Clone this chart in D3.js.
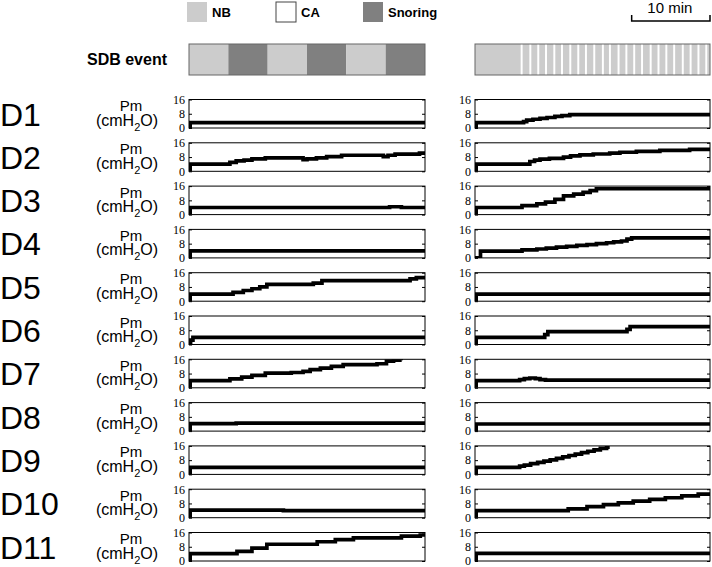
<!DOCTYPE html>
<html>
<head>
<meta charset="utf-8">
<script src="https://cdn.jsdelivr.net/npm/d3@7"></script>
<style>
  body { margin: 0; background: #fff; }
  svg { display: block; }
  .tick text { font-family: "Liberation Serif", "Times New Roman", serif; font-size: 12px; }
</style>
</head>
<body>
<svg id="chart" width="712" height="567"></svg>
<script>
// Subjects and time axis (minutes)
var subjects = ["D1", "D2", "D3", "D4", "D5", "D6", "D7", "D8", "D9", "D10", "D11"];
var yTicks = [0, 8, 16];
var totalMinutes = 30;

// Legend of SDB event types
var eventTypes = ["NB", "CA", "Snoring"];
var eventColors = { NB: "#cccccc", CA: "#ffffff", Snoring: "#808080" };

// SDB event protocol, [type, start, end] in minutes
var sdbLeft = [["NB", 0, 5], ["Snoring", 5, 10], ["NB", 10, 15], ["Snoring", 15, 20], ["NB", 20, 25], ["Snoring", 25, 30]];
var sdbRight = [["NB", 0, 30]];
var caStarts = [5.83, 6.94, 7.95, 8.94, 10.0, 10.98, 12.04, 13.06, 14.04, 15.1, 16.2, 17.1,
                18.2, 19.2, 20.2, 21.2, 22.3, 23.3, 24.3, 25.3, 26.4, 27.4, 28.4, 29.4];
var caLength = 0.25;

// Pm traces, [minute, cmH2O]
var d1Left  = [[0,0],[0.15,3],[30,3]];
var d1Right = [[0,0],[0.15,3],[6.2,3.6],[6.6,4.4],[7.4,4.9],[8.3,5.4],[9.2,5.9],[10.2,6.5],[11.1,7.0],[12.1,7.5],[30,7.5]];
var d2Left  = [[0,0],[0.15,4],[5.2,5],[6,5.8],[7,6.3],[8,7],[9.7,7.5],[14.5,6.6],[15,7],[16.2,7.5],[17.5,8.2],[19.4,9],[24.7,8.2],[25.3,9],[26.2,9.6],[29.3,10.2],[30,10.2]];
var d2Right = [[0,0],[0.15,4],[7.0,5.5],[7.6,6.3],[8.3,6.8],[9.5,7.3],[11.3,8],[12.2,8.7],[13.4,9.2],[15.1,9.7],[17.2,10.2],[18.5,10.7],[20.6,11.2],[23.6,11.7],[27.4,12.3],[30,12.3]];
var d3Left  = [[0,0],[0.15,4],[25.5,4.4],[27,4],[30,4]];
var d3Right = [[0,0],[0.15,4],[6.0,5],[7.9,6],[9,7],[10.2,8.5],[11.3,10.5],[12.6,11.5],[13.8,12.5],[14.7,13.5],[15.5,14.5],[30,14.5]];
var d4Left  = [[0,0],[0.15,4],[30,4]];
var d4Right = [[0,0],[0.6,0],[0.7,3.8],[6.0,4.5],[7.9,5],[9.1,5.5],[10.4,6],[11.7,6.5],[13,7],[14.3,7.5],[15.5,8],[16.8,8.5],[17.7,9],[18.7,9.5],[19.4,10.5],[20,11.2],[30,11.2]];
var d5Left  = [[0,0],[0.15,4],[5.6,5],[6.9,6],[8,7],[9,8],[9.9,9.5],[15.8,10.2],[16.9,11.6],[28.1,12.5],[28.9,13.2],[30,13.2]];
var d5Right = [[0,0],[0.15,4],[30,4]];
var d6Left  = [[0,0],[0.2,2.5],[0.5,4],[30,4]];
var d6Right = [[0,0],[0.15,4],[8.9,5.5],[9.3,7.2],[19.4,8.5],[19.8,10],[30,10]];
var d7Left  = [[0,0],[0.15,4],[5.2,5],[6.7,6],[8,7],[9.7,8.2],[13,8.6],[14.5,9.2],[15.4,10.2],[16.7,11],[18.1,12],[19.6,13],[23.9,13.5],[25.1,15],[26,15.5],[26.8,16.5],[27.2,16.5]];
var d7Right = [[0,0],[0.15,4],[5.7,4.6],[6.3,5.2],[7,5.5],[7.7,5.1],[8.3,4.6],[9,4.3],[30,4.3]];
var d8Left  = [[0,0],[0.15,4.2],[6,4.5],[30,4.5]];
var d8Right = [[0,0],[0.15,4],[30,4]];
var d9Left  = [[0,0],[0.15,4],[30,4]];
var d9Right = [[0,0],[0.15,4],[5.7,4.6],[6.3,5.2],[7.1,6],[8,6.8],[8.8,7.5],[9.6,8.2],[10.4,9],[11.2,9.8],[12,10.6],[12.8,11.4],[13.6,12.2],[14.4,13],[15.2,13.8],[16,14.6],[16.8,15.3],[17.2,15.3]];
var d10Left  = [[0,0],[0.15,4.2],[12,4],[30,4]];
var d10Right = [[0,0],[0.15,4],[11.9,5],[14.3,6.2],[16.4,7.3],[18.3,8.3],[20.2,9.3],[22.3,10.3],[24.3,11.2],[26.4,12.2],[28.5,13.2],[30,13.2]];
var d11Left  = [[0,0],[0.15,4.1],[6.1,5.4],[8,7.2],[9.9,9.4],[16.3,10.8],[18.6,12],[20.9,13],[27,14],[29.4,14.6],[30,14.6]];
var d11Right = [[0,0],[0.15,4.3],[30,4.3]];

var leftTraces  = [d1Left, d2Left, d3Left, d4Left, d5Left, d6Left, d7Left, d8Left, d9Left, d10Left, d11Left];
var rightTraces = [d1Right, d2Right, d3Right, d4Right, d5Right, d6Right, d7Right, d8Right, d9Right, d10Right, d11Right];

var svg = d3.select("#chart");
var sans = "Liberation Sans, Arial, Helvetica, sans-serif";

// Column layout
var columns = [
  { x0: 189, x1: 425, traces: leftTraces, sdb: sdbLeft, ca: [] },
  { x0: 475, x1: 710, traces: rightTraces, sdb: sdbRight, ca: caStarts }
];
var panelH = 28.5;
var rowTop = d3.scaleLinear().domain([0, 1]).range([99.5, 142.8]);
var y = d3.scaleLinear().domain([0, 16]).range([panelH, 0]);

// Legend
var legendX = { NB: 187, CA: 276, Snoring: 363 };
var legend = svg.selectAll(".legend")
    .data(eventTypes)
  .enter().append("g")
    .attr("class", "legend")
    .attr("transform", function(d) { return "translate(" + legendX[d] + ",2)"; });
legend.append("rect")
    .attr("width", 20).attr("height", 20)
    .attr("fill", function(d) { return eventColors[d]; })
    .attr("stroke", function(d) { return d === "CA" ? "#444" : "none"; });
legend.append("text")
    .attr("x", 25).attr("y", 15)
    .attr("font-family", sans)
    .attr("font-size", "13px").attr("font-weight", "bold")
    .text(function(d) { return d; });

// 10 min scale bar, drawn with the right column's time scale
var xScaleBar = d3.scaleLinear().domain([0, totalMinutes]).range([columns[1].x0, columns[1].x1]);
var barX0 = xScaleBar(totalMinutes - 10), barX1 = xScaleBar(totalMinutes);
svg.append("path")
    .attr("d", "M" + barX0 + ",15V21H" + barX1 + "V15")
    .attr("fill", "none").attr("stroke", "#000").attr("stroke-width", 1.5);
svg.append("text")
    .attr("x", (barX0 + barX1) / 2 - 1).attr("y", 13)
    .attr("text-anchor", "middle")
    .attr("font-family", sans)
    .attr("font-size", "15px")
    .text("10 min");

// SDB event row
svg.append("text")
    .attr("x", 167).attr("y", 65)
    .attr("text-anchor", "end")
    .attr("font-family", sans)
    .attr("font-size", "16px").attr("font-weight", "bold")
    .text("SDB event");

columns.forEach(function(col) {
  var x = d3.scaleLinear().domain([0, totalMinutes]).range([col.x0, col.x1]);
  var g = svg.append("g");
  g.selectAll(".seg")
      .data(col.sdb)
    .enter().append("rect")
      .attr("x", function(d) { return x(d[1]); })
      .attr("width", function(d) { return x(d[2]) - x(d[1]); })
      .attr("y", 44).attr("height", 31)
      .attr("fill", function(d) { return eventColors[d[0]]; });
  g.selectAll(".ca")
      .data(col.ca)
    .enter().append("rect")
      .attr("x", function(d) { return x(d); })
      .attr("width", function(d) { return x(d + caLength) - x(d); })
      .attr("y", 44).attr("height", 31)
      .attr("fill", eventColors.CA);
  g.append("rect")
      .attr("x", col.x0).attr("y", 44)
      .attr("width", col.x1 - col.x0).attr("height", 31)
      .attr("fill", "none").attr("stroke", "#666").attr("stroke-width", 1);
});

// Row labels
subjects.forEach(function(name, i) {
  var top = rowTop(i);
  svg.append("text")
      .attr("x", 0).attr("y", top + 26)
      .attr("font-family", sans)
      .attr("font-size", "32px")
      .text(name);
  svg.append("text")
      .attr("x", 131).attr("y", top + 11.5)
      .attr("text-anchor", "middle")
      .attr("font-family", sans)
      .attr("font-size", "15px")
      .text("Pm");
  var unit = svg.append("text")
      .attr("x", 127).attr("y", top + 26)
      .attr("text-anchor", "middle")
      .attr("font-family", sans)
      .attr("font-size", "16px");
  unit.append("tspan").text("(cmH");
  unit.append("tspan").attr("dy", 5).attr("font-size", "11px").text("2");
  unit.append("tspan").attr("dy", -5).text("O)");
});

// Pm panels
columns.forEach(function(col, ci) {
  var w = col.x1 - col.x0;
  var x = d3.scaleLinear().domain([0, totalMinutes]).range([0, w]);
  var line = d3.line()
      .x(function(d) { return x(d[0]); })
      .y(function(d) { return y(d[1]); })
      .curve(d3.curveStepAfter);

  col.traces.forEach(function(trace, i) {
    var top = rowTop(i);
    var clipId = "clip-" + ci + "-" + i;
    var panel = svg.append("g")
        .attr("transform", "translate(" + col.x0 + "," + top + ")");

    panel.append("clipPath").attr("id", clipId)
      .append("rect").attr("width", w).attr("height", panelH);

    panel.append("g")
        .call(d3.axisLeft(y).tickValues(yTicks).tickSize(-3).tickPadding(4))
        .call(function(a) { a.select(".domain").remove(); });
    panel.append("g")
        .attr("transform", "translate(" + w + ",0)")
        .call(d3.axisRight(y).tickValues(yTicks).tickSize(-3).tickFormat(""))
        .call(function(a) { a.select(".domain").remove(); });

    panel.append("path")
        .datum(trace)
        .attr("clip-path", "url(#" + clipId + ")")
        .attr("d", line)
        .attr("fill", "none")
        .attr("stroke", "#000")
        .attr("stroke-width", 3.7);

    panel.append("rect")
        .attr("width", w).attr("height", panelH)
        .attr("fill", "none").attr("stroke", "#000").attr("stroke-width", 1);
  });
});
</script>
</body>
</html>
